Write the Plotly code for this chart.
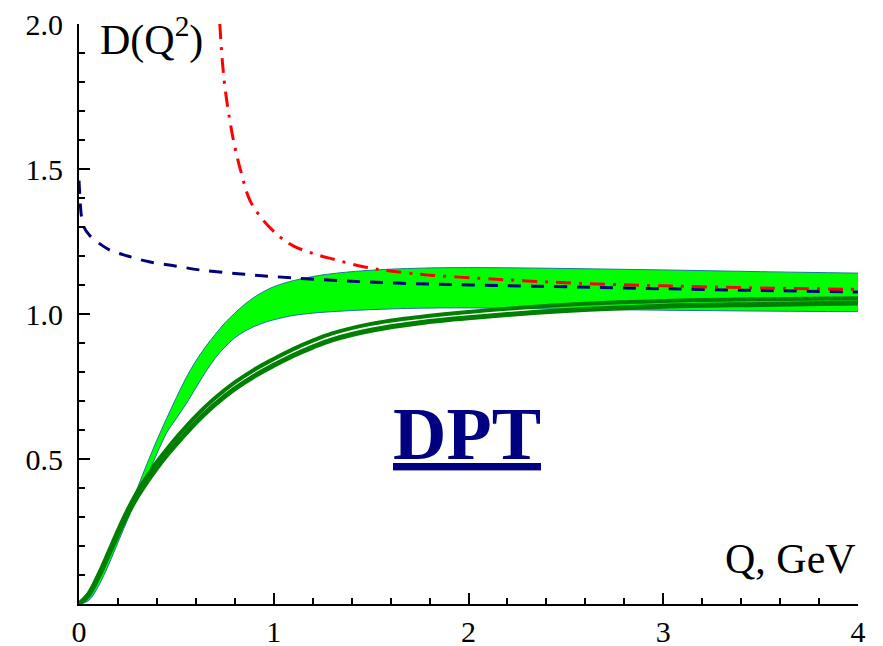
import plotly.graph_objects as go

# ---- data ----
q_band = [0, 0.05, 0.1, 0.15, 0.2, 0.25, 0.3, 0.35, 0.4, 0.45, 0.5, 0.55, 0.6, 0.65, 0.7, 0.75,
          0.8, 0.85, 0.9, 0.95, 1.0, 1.1, 1.2, 1.3, 1.5, 1.75, 2.0, 2.5, 3.0, 3.5, 4.0]
band_upper = [0, 0.02, 0.08, 0.155, 0.235, 0.318, 0.40, 0.485, 0.565, 0.64, 0.712, 0.78, 0.838,
              0.887, 0.93, 0.97, 1.003, 1.033, 1.058, 1.078, 1.094, 1.115, 1.129, 1.139, 1.151,
              1.158, 1.16, 1.157, 1.152, 1.146, 1.141]
band_lower = [0, 0.012, 0.062, 0.132, 0.212, 0.292, 0.37, 0.44, 0.518, 0.59, 0.64, 0.69, 0.745,
              0.80, 0.848, 0.887, 0.918, 0.94, 0.957, 0.97, 0.98, 0.995, 1.003, 1.008, 1.015,
              1.02, 1.021, 1.017, 1.013, 1.01, 1.008]

q_dark = [0, 0.05, 0.1, 0.15, 0.2, 0.25, 0.3, 0.35, 0.4, 0.45, 0.5, 0.55, 0.6, 0.7, 0.8, 0.9,
          1.0, 1.1, 1.2, 1.3, 1.5, 1.75, 2.0, 2.5, 3.0, 3.5, 4.0]
dark_upper = [0, 0.037, 0.102, 0.177, 0.254, 0.325, 0.388, 0.441, 0.49, 0.533, 0.574, 0.612,
              0.648, 0.711, 0.764, 0.808, 0.845, 0.879, 0.908, 0.933, 0.966, 0.99, 1.007,
              1.032, 1.045, 1.051, 1.054]
dark_lower = [0, 0.033, 0.094, 0.167, 0.242, 0.311, 0.372, 0.423, 0.47, 0.513, 0.552, 0.59,
              0.626, 0.689, 0.742, 0.786, 0.823, 0.857, 0.886, 0.911, 0.944, 0.97, 0.987,
              1.012, 1.027, 1.033, 1.038]

q_navy = [0, 0.005, 0.012, 0.025, 0.056, 0.1, 0.16, 0.25, 0.36, 0.5, 0.62, 0.8, 1.0, 1.37,
          1.7, 2.02, 2.57, 3.0, 3.5, 4.0]
d_navy = [1.46, 1.40, 1.34, 1.30, 1.27, 1.245, 1.22, 1.20, 1.18, 1.165, 1.152, 1.14, 1.129,
          1.114, 1.105, 1.10, 1.093, 1.087, 1.081, 1.076]

q_red = [0.723, 0.735, 0.749, 0.774, 0.8, 0.834, 0.877, 0.945, 1.03, 1.1, 1.2, 1.3, 1.46, 1.6,
         1.8, 2.06, 2.3, 2.56, 3.0, 3.5, 4.0]
d_red = [2.0, 1.88, 1.784, 1.669, 1.577, 1.485, 1.393, 1.324, 1.267, 1.235, 1.209, 1.19, 1.163,
         1.148, 1.134, 1.123, 1.114, 1.106, 1.097, 1.09, 1.085]

x_tickvals = [0, 1, 2, 3, 4]
x_ticktext = ["0", "1", "2", "3", "4"]
y_tickvals = [0.5, 1.0, 1.5, 2.0]
y_ticktext = ["0.5", "1.0", "1.5", "2.0"]

SERIF = "Liberation Serif, Times New Roman, serif"
EDGE = "rgb(30,115,165)"

fig = go.Figure()

fig.add_trace(go.Scatter(x=q_band, y=band_lower, mode="lines",
                         line=dict(color=EDGE, width=1, shape="spline"),
                         hoverinfo="skip", showlegend=False))
fig.add_trace(go.Scatter(x=q_band, y=band_upper, mode="lines", fill="tonexty",
                         fillcolor="#00ff00",
                         line=dict(color=EDGE, width=1, shape="spline"),
                         hoverinfo="skip", showlegend=False))

fig.add_trace(go.Scatter(x=q_dark, y=dark_lower, mode="lines",
                         line=dict(color="#008000", width=5, shape="spline"),
                         showlegend=False))
fig.add_trace(go.Scatter(x=q_dark, y=dark_upper, mode="lines",
                         line=dict(color="#008000", width=4, shape="spline"),
                         showlegend=False))

fig.add_trace(go.Scatter(x=q_navy, y=d_navy, mode="lines",
                         line=dict(color="#000080", width=3, dash="13px,10px", shape="spline"),
                         showlegend=False))
fig.add_trace(go.Scatter(x=q_red, y=d_red, mode="lines",
                         line=dict(color="#ff0000", width=3, dash="15px,8px,3px,8px",
                                   shape="spline"),
                         showlegend=False))

fig.add_annotation(x=0.095, y=1.955, xref="x", yref="y", text="D(Q<sup>2</sup>)",
                   showarrow=False, xanchor="left", yanchor="middle",
                   font=dict(family=SERIF, size=42, color="black"))
fig.add_annotation(x=4.0, y=0.155, xref="x", yref="y", text="Q, GeV",
                   showarrow=False, xanchor="right", yanchor="middle",
                   font=dict(family=SERIF, size=42, color="black"))
fig.add_annotation(x=1.99, y=0.586, xref="x", yref="y", text="<b><u>DPT</u></b>",
                   showarrow=False, xanchor="center", yanchor="middle",
                   font=dict(family=SERIF, size=74, color="#000080"))

axis_common = dict(showgrid=False, zeroline=False, showline=True, linecolor="black",
                   linewidth=2, ticks="inside", tickcolor="black", tickwidth=2, ticklen=11,
                   tickfont=dict(family=SERIF, size=30, color="black"), mirror=False,
                   automargin=False)

fig.update_xaxes(range=[0, 4], tickmode="array", tickvals=x_tickvals, ticktext=x_ticktext,
                 minor=dict(ticks="inside", dtick=0.2, ticklen=6, tickwidth=2,
                            tickcolor="black"),
                 ticklabelstandoff=0, **axis_common)
fig.update_yaxes(range=[0, 2], tickmode="array", tickvals=y_tickvals, ticktext=y_ticktext,
                 minor=dict(ticks="inside", dtick=0.1, ticklen=6, tickwidth=2,
                            tickcolor="black"),
                 ticklabelstandoff=8, **axis_common)

fig.update_layout(width=883, height=646, margin=dict(l=79, r=25, t=24, b=42),
                  plot_bgcolor="white", paper_bgcolor="white", showlegend=False)

fig.write_html("out.html", config={"displayModeBar": False},
               post_script="document.body.style.margin='0';"
                           "document.body.style.overflow='hidden';")
